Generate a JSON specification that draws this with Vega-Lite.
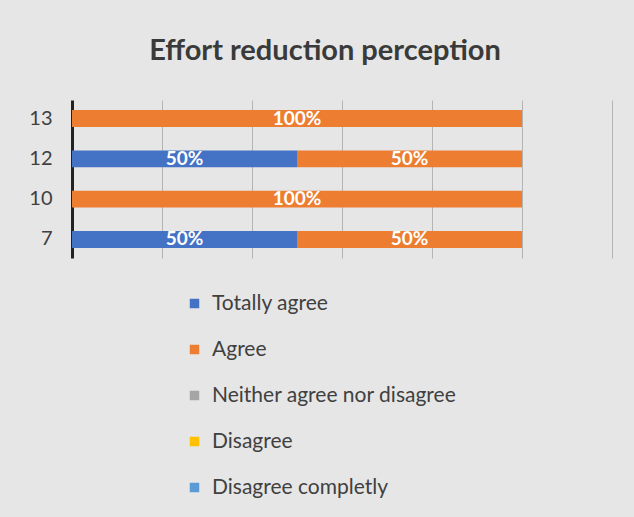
{
  "$schema": "https://vega.github.io/schema/vega-lite/v6.json",
  "autosize": "none",
  "width": 540,
  "height": 158,
  "padding": {"left": 72, "top": 100, "right": 22, "bottom": 259},
  "background": "#e6e6e6",
  "title": {"text": "Effort reduction perception", "font": "Lato", "fontSize": 29, "fontWeight": "bold", "color": "#3a3a3a", "offset": 34, "dx": -17, "anchor": "middle"},
  "config": {"view": {"stroke": null}, "font": "Lato"},
  "data": {"values": [
    {"q": "13", "answer": "Agree", "value": 1.0},
    {"q": "12", "answer": "Totally agree", "value": 0.5},
    {"q": "12", "answer": "Agree", "value": 0.5},
    {"q": "10", "answer": "Agree", "value": 1.0},
    {"q": "7", "answer": "Totally agree", "value": 0.5},
    {"q": "7", "answer": "Agree", "value": 0.5}
  ]},
  "encoding": {
    "y": {"field": "q", "type": "nominal", "sort": ["13", "12", "10", "7"],
      "scale": {"paddingInner": 0.58, "paddingOuter": 0.25},
      "axis": {"title": null, "labelFontSize": 20, "labelColor": "#404040", "labelPadding": 20, "ticks": false, "domainColor": "#222222", "domainWidth": 3}},
    "x": {"field": "value", "type": "quantitative", "stack": "zero",
      "scale": {"domain": [0, 1.2], "nice": false},
      "axis": {"title": null, "labels": false, "ticks": false, "domain": false, "values": [0.2, 0.4, 0.6, 0.8, 1.0, 1.2], "gridColor": "#b4b4b4", "gridWidth": 1}},
    "order": {"field": "answer", "sort": "descending"}
  },
  "layer": [
    {
      "mark": {"type": "bar"},
      "encoding": {
        "color": {"field": "answer", "type": "nominal",
          "scale": {"domain": ["Totally agree", "Agree", "Neither agree nor disagree", "Disagree", "Disagree completly"],
            "range": ["#4472C4", "#ED7D31", "#A5A5A5", "#FFC000", "#5B9BD5"]},
          "legend": {"title": null, "orient": "none", "legendX": 112, "legendY": 193, "direction": "vertical",
            "symbolType": "square", "symbolSize": 90, "labelFontSize": 21, "labelColor": "#404040", "labelFont": "Lato",
            "rowPadding": 24, "labelOffset": 7, "labelLimit": 400}}
      }
    },
    {
      "mark": {"type": "text", "color": "white", "fontSize": 19, "font": "Lato", "fontWeight": "bold"},
      "encoding": {
        "x": {"field": "value", "type": "quantitative", "stack": "zero", "bandPosition": 0.5},
        "detail": {"field": "answer"},
        "text": {"field": "value", "type": "quantitative", "format": ".0%"}
      }
    }
  ]
}
